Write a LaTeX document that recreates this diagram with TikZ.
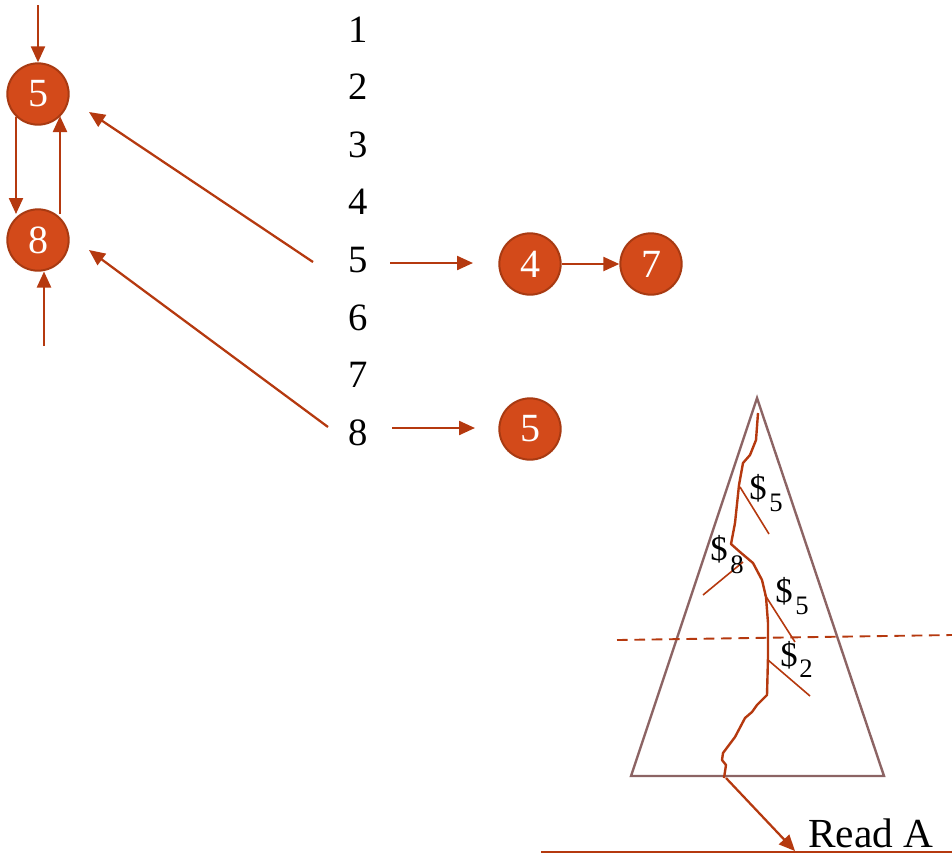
\documentclass[tikz,border=0pt]{standalone}
\usepackage{fontspec}
\setmainfont{Liberation Serif}
\usetikzlibrary{arrows.meta}
\definecolor{arr}{HTML}{B5390F}
\definecolor{cfill}{HTML}{D34A1A}
\definecolor{cdraw}{HTML}{A83A12}
\definecolor{tri}{HTML}{8C6464}
\tikzset{
  cnode/.style={circle, fill=cfill, draw=cdraw, line width=1.5pt, minimum size=46pt, inner sep=0pt, text=white, font=\fontsize{30}{34}\selectfont},
  num/.style={inner sep=0pt, font=\fontsize{29}{33}\selectfont},
  arw/.style={draw=arr, line width=1.7pt, -{Triangle[length=12pt,width=10.5pt]}},
  crack/.style={draw=arr, line width=1.8pt, line join=round},
  branch/.style={draw=arr, line width=1.2pt},
  dol/.style={inner sep=0pt, font=\fontsize{26}{30}\selectfont},
  sub/.style={inner sep=0pt, font=\fontsize{20}{24}\selectfont},
}
\begin{document}
\begin{tikzpicture}[x=0.75pt, y=-0.75pt]
\useasboundingbox (0,0) rectangle (952,854);
% left pair
\node[cnode] (a5) at (38,94) {5};
\node[cnode] (a8) at (38,240) {8};
\coordinate (atop) at (38,5);
\coordinate (abot) at (44,346);
\draw[arw] (atop) -- (a5.north);
\draw[arw] (abot) -- (44,271.5);
\draw[arw] (16,117) -- (16,214);
\draw[arw] (60,214) -- (60,116);
% numbers
\foreach \i/\y in {1/30,2/87,3/145,4/202,5/260,6/318,7/375,8/433}
  \node[num] (n\i) at (358,\y) {\i};
% right circles
\node[cnode] (b4) at (530,264) {4};
\node[cnode] (b7) at (651,264) {7};
\node[cnode] (c5) at (530,429) {5};
% arrows
\coordinate (s5) at (313,262);
\coordinate (e5) at (89,112);
\coordinate (s8) at (328,427);
\coordinate (e8) at (89,250);
\draw[arw] (s5) -- (e5);
\draw[arw] (s8) -- (e8);
\coordinate (r5) at (390,263);
\coordinate (r5e) at (473,263);
\draw[arw] (r5) -- (r5e);
\draw[arw] (b4.east) -- (b7.west);
\coordinate (r8) at (392,428);
\coordinate (r8e) at (475,428);
\draw[arw] (r8) -- (r8e);
% triangle
\draw[tri, line width=1.8pt, line join=miter] (757,398) -- (631,776) -- (884,776) -- cycle;
% crack
\draw[crack] (758,413) -- (756,440) -- (750,455) -- (743,463) -- (739,485) -- (735,523) -- (731,544) -- (740,552) -- (753,563) -- (762,580) -- (766,597) -- (768,623) -- (768,657) -- (767,695) -- (757,705) -- (752,712) -- (745,718) -- (735,737) -- (723,753) -- (722,760) -- (726,765) -- (724,778);
% branches
\draw[branch] (740,487) -- (769,534);
\draw[branch] (743,562) -- (703,595);
\draw[branch] (765,595) -- (795,642);
\draw[branch] (768,660) -- (810,696);
% labels
\node[dol] (d1) at (758,488) {\$};
\node[sub] (u1) at (776,503) {5};
\node[dol] (d2) at (719,549) {\$};
\node[sub] (u2) at (737,565) {8};
\node[dol] (d3) at (784,591) {\$};
\node[sub] (u3) at (802,606) {5};
\node[dol] (d4) at (789,655) {\$};
\node[sub] (u4) at (806,669) {2};
% dashed line
\coordinate (dl) at (617,640);
\coordinate (dr) at (952,635);
\draw[draw=arr, line width=1.4pt, dash pattern=on 8pt off 5pt] (dl) -- (dr);
% read A
\coordinate (cb) at (726,778);
\coordinate (ra) at (795,851);
\draw[arw] (cb) -- (ra);
\coordinate (hl) at (541,852);
\coordinate (hr) at (952,852);
\draw[draw=arr, line width=1.4pt] (hl) -- (hr);
\node[num, anchor=base west, text depth=0pt, font=\fontsize{31}{35}\selectfont] (read) at (808,847) {Read A};
\end{tikzpicture}
\end{document}
